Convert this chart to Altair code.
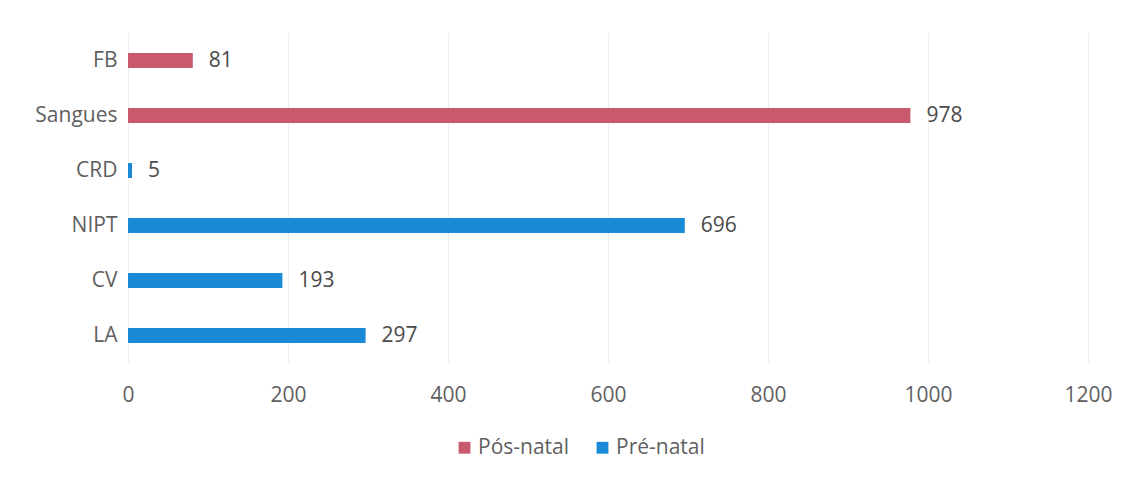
import altair as alt
import pandas as pd

categories = ["FB", "Sangues", "CRD", "NIPT", "CV", "LA"]
values = [81, 978, 5, 696, 193, 297]
groups = ["Pós-natal", "Pós-natal", "Pré-natal", "Pré-natal", "Pré-natal", "Pré-natal"]
group_order = ["Pós-natal", "Pré-natal"]
group_colors = ["#c95a6e", "#1b8ad6"]
x_ticks = [0, 200, 400, 600, 800, 1000, 1200]

df = pd.DataFrame({"cat": categories, "val": values, "grp": groups})

FONT = "Open Sans"
TXT = "#5f5f5f"
FS = 21

y = alt.Y("cat:N", sort=categories, title=None,
          axis=alt.Axis(labelFont=FONT, labelFontSize=FS, labelColor=TXT,
                        ticks=False, domain=False, labelPadding=11, grid=False))
x = alt.X("val:Q", title=None, scale=alt.Scale(domain=[0, 1200], nice=False),
          axis=alt.Axis(values=x_ticks, format="d", labelFont=FONT, labelFontSize=FS,
                        labelColor=TXT, labelFlush=False,
                        ticks=False, domain=False, labelPadding=21,
                        grid=True, gridColor="#efefef", gridWidth=1))

bars = alt.Chart(df).mark_bar(size=15).encode(
    x=x, y=y,
    color=alt.Color("grp:N", scale=alt.Scale(domain=group_order, range=group_colors),
                    legend=alt.Legend(title=None, orient="none", legendX=326, legendY=404,
                                      direction="horizontal", symbolType="square",
                                      symbolSize=140, labelFont=FONT, labelFontSize=FS,
                                      labelOffset=3, labelColor=TXT, columnPadding=22,
                                      symbolStrokeWidth=0)),
)

labels = alt.Chart(df).mark_text(align="left", baseline="middle", dx=16,
                                 font=FONT, fontSize=FS, color="#4a4a4a").encode(
    x="val:Q", y=alt.Y("cat:N", sort=categories), text="val:Q"
)

chart = (bars + labels).properties(
    width=960, height=330,
    autosize=alt.AutoSizeParams(type="none"),
    padding={"left": 120, "top": 25, "right": 30, "bottom": 110},
).configure(background="white").configure_view(stroke=None)

chart.save("out.html", embed_options={"renderer": "svg", "actions": False})
